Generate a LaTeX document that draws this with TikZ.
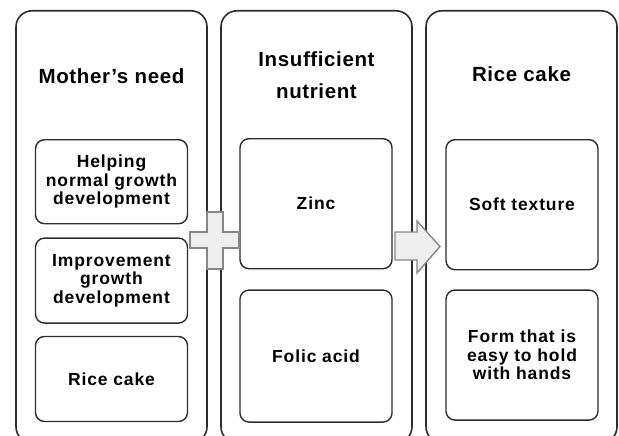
\documentclass[tikz,border=0pt]{standalone}
\usepackage{fontspec}
\setmainfont{Liberation Sans}
\newfontfamily\headfont[LetterSpace=3]{Liberation Sans}
\newfontfamily\itemfont[LetterSpace=5]{Liberation Sans}
\usetikzlibrary{positioning}
\definecolor{framegray}{RGB}{45,45,45}
\definecolor{signfill}{RGB}{238,238,238}
\definecolor{signline}{RGB}{135,135,135}

\begin{document}
\begin{tikzpicture}[x=1pt, y=-1pt,
    panel/.style={draw=framegray, line width=1.6pt, rounded corners=16pt,
                  minimum width=191pt, minimum height=432pt, anchor=north},
    head/.style={align=center, font=\headfont\bfseries\fontsize{20.5}{32}\selectfont},
    item/.style={draw=framegray, line width=1.4pt, rounded corners=9pt,
                 fill=white, align=center, inner sep=0pt, minimum width=152pt,
                 font=\itemfont\bfseries\fontsize{17.5}{18.5}\selectfont},
    sign/.style={draw=signline, line width=1.4pt, fill=signfill, line join=miter},
]
    \useasboundingbox (0,0) rectangle (619,436);

    % three columns
    \node[panel] (needpanel) at (111.5,10) {};
    \node[panel] (nutrpanel) at (316.5,10) {};
    \node[panel] (cakepanel) at (521.5,10) {};

    \node[head] (needhead) at (111.5,76) {Mother’s need};
    \node[head] (nutrhead) at (316.5,75) {Insufficient\\nutrient};
    \node[head] (cakehead) at (521.5,74) {Rice cake};

    \node[item, minimum height=84pt, anchor=north] (helping) at (111.5,139)
        {Helping\\normal growth\\development};
    \node[item, minimum height=85pt, below=13pt of helping] (improve)
        {Improvement\\growth\\development};
    \node[item, minimum height=85pt, below=12pt of improve] (ricecake) {Rice cake};

    \node[item, minimum height=130pt, anchor=north] (zinc) at (316,138) {Zinc};
    \node[item, minimum height=132pt, below=20pt of zinc] (folic) {Folic acid};

    \node[item, minimum height=130pt, anchor=north] (soft) at (522,139) {Soft texture};
    \node[item, minimum height=130pt, below=19pt of soft] (form)
        {Form that is\\easy to hold\\with hands};

    % plus and arrow between the columns
    \draw[sign, shift={(215,240)}] (-8,-28) -- (8,-28) -- (8,-8) -- (24,-8) -- (24,8)
        -- (8,8) -- (8,29) -- (-8,29) -- (-8,8) -- (-25,8) -- (-25,-8) -- (-8,-8) -- cycle;
    \draw[sign] (395,232) -- (417,232) -- (417,221) -- (440,246.5) -- (417,273)
        -- (417,260) -- (395,260) -- cycle;
\end{tikzpicture}
\end{document}
